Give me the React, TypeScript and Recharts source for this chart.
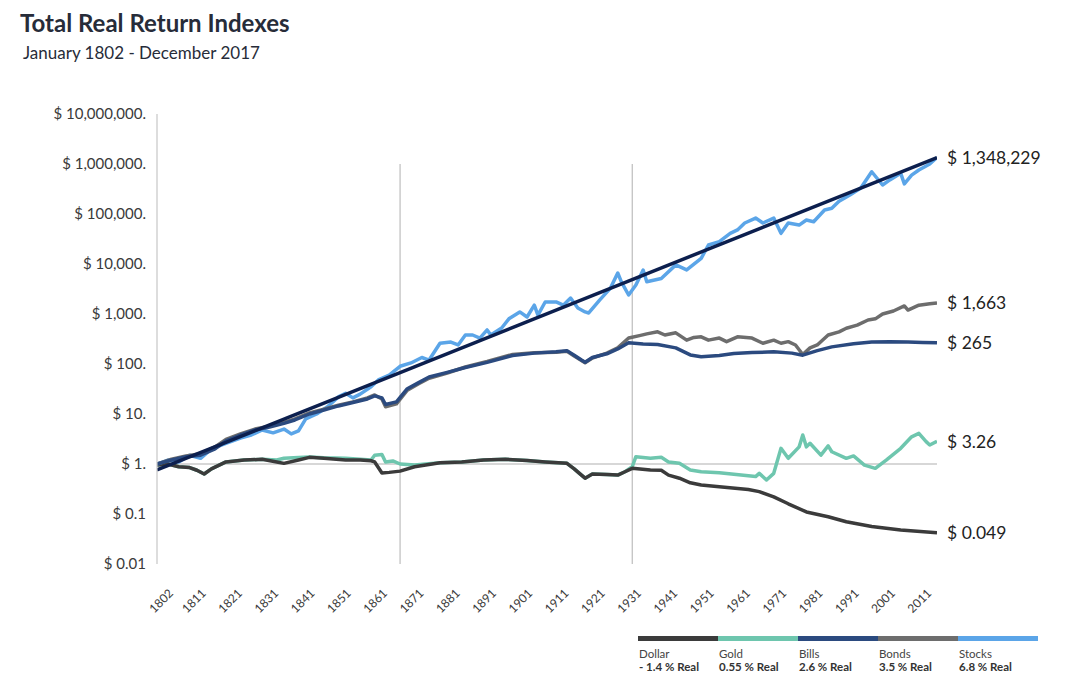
import React from "react";
import { LineChart, Line, XAxis, YAxis, ReferenceLine, LabelList } from "recharts";

// ---------- data ----------
const stockYears = [1802,1805,1808,1811,1814,1817,1821,1825,1828,1831,1834,1837,1839,1841,1843,1846,1849,1852,1854,1856,1858,1861,1863,1866,1869,1872,1875,1877,1880,1883,1885,1887,1889,1891,1893,1894,1897,1899,1902,1904,1906,1907,1909,1912,1914,1916,1918,1920,1921,1924,1927,1929,1930,1932,1934,1936,1937,1941,1945,1948,1952,1954,1957,1960,1962,1964,1967,1969,1972,1974,1976,1979,1981,1983,1986,1988,1990,1993,1996,1999,2002,2004,2007,2008,2010,2012,2015,2017];
const stockValues = [1.0,1.2,1.1,1.5,1.3,2.0,2.6,3.3,3.8,4.8,4.2,5.0,4.0,4.6,8.0,10,14,22,26,21,25,35,48,60,90,105,135,120,260,275,240,380,380,330,480,380,525,800,1100,870,1500,950,1740,1740,1500,2090,1320,1100,1050,1900,3300,6600,4400,2400,3800,7600,4400,5130,9600,7600,13000,24000,28000,41000,48000,66000,83000,66000,83000,41000,66000,60000,76000,70000,120000,130000,180000,240000,330000,700000,380000,480000,650000,400000,600000,760000,1000000,1348229];

const bondYears = [1802,1806,1810,1814,1818,1821,1825,1829,1833,1837,1840,1844,1848,1852,1856,1860,1862,1864,1865,1868,1871,1874,1877,1882,1887,1893,1900,1906,1912,1915,1917,1919,1920,1922,1926,1929,1932,1935,1937,1940,1942,1945,1948,1950,1952,1954,1957,1959,1962,1966,1969,1972,1974,1976,1978,1980,1982,1984,1987,1990,1992,1995,1998,2000,2002,2005,2008,2009,2012,2015,2017];
const bondValues = [1.0,1.25,1.45,1.6,2.2,3.1,4.0,5.0,5.7,6.8,8.0,10.5,12.5,15,17.5,21,24,20,14,16,30,40,52,66,87,112,155,168,172,180,145,118,106,132,165,210,330,370,400,440,380,420,300,340,350,300,330,280,350,330,260,300,260,280,240,155,210,240,380,440,520,600,760,800,1000,1150,1450,1200,1500,1600,1663];

const billYears = [1802,1806,1810,1814,1818,1821,1825,1829,1833,1837,1840,1844,1848,1852,1856,1860,1862,1864,1865,1868,1871,1874,1877,1882,1887,1893,1900,1906,1912,1915,1917,1919,1920,1922,1926,1929,1932,1936,1940,1945,1949,1952,1957,1961,1966,1972,1977,1980,1984,1988,1994,1999,2004,2009,2013,2017];
const billValues = [1.0,1.2,1.4,1.5,2.0,2.9,3.8,4.8,5.5,6.5,7.6,10,12,14.5,17,20,23,21,15.5,17.5,32,42,55,68,85,108,148,165,175,185,150,120,108,135,160,200,265,250,245,210,152,140,148,162,170,175,165,150,185,220,255,275,278,275,270,265];

const goldYears = [1802,1805,1808,1811,1813,1815,1817,1821,1826,1831,1835,1837,1841,1844,1848,1854,1858,1861,1862,1864,1865,1867,1869,1873,1880,1886,1892,1898,1904,1909,1915,1917,1919,1920,1922,1926,1929,1931,1933,1934,1938,1941,1943,1946,1949,1952,1957,1963,1967,1968,1970,1972,1974,1976,1979,1980,1981,1982,1985,1987,1988,1992,1994,1997,2000,2003,2007,2010,2012,2014,2015,2017];
const goldValues = [0.95,1.0,0.88,0.85,0.75,0.63,0.8,1.1,1.2,1.24,1.2,1.3,1.35,1.38,1.33,1.3,1.25,1.2,1.5,1.55,1.1,1.15,1.0,0.95,1.06,1.1,1.2,1.24,1.18,1.1,1.03,0.8,0.6,0.52,0.63,0.62,0.6,0.7,0.88,1.4,1.3,1.36,1.1,1.03,0.76,0.7,0.67,0.6,0.56,0.65,0.48,0.65,2.06,1.3,2.2,3.8,2.2,2.6,1.5,2.3,1.76,1.3,1.45,0.95,0.82,1.2,2.06,3.5,4.1,2.8,2.4,2.85];

const dollarYears = [1802,1805,1808,1811,1813,1815,1817,1821,1826,1831,1835,1837,1841,1844,1848,1854,1858,1861,1862,1864,1866,1869,1873,1880,1886,1892,1898,1904,1909,1915,1917,1919,1920,1922,1926,1929,1931,1933,1938,1941,1943,1946,1949,1952,1957,1965,1968,1972,1976,1981,1987,1992,1999,2007,2017];
const dollarValues = [0.95,1.0,0.88,0.85,0.75,0.63,0.8,1.1,1.2,1.24,1.1,1.03,1.2,1.36,1.3,1.2,1.2,1.16,1.1,0.66,0.68,0.72,0.88,1.06,1.1,1.2,1.24,1.18,1.1,1.03,0.8,0.6,0.52,0.63,0.62,0.6,0.7,0.82,0.76,0.75,0.6,0.52,0.42,0.38,0.35,0.31,0.28,0.22,0.16,0.11,0.088,0.07,0.056,0.048,0.042];

const trendYears = [1802, 2017];
const trendValues = [0.76, 1348229];

const seriesNames = ["Dollar", "Gold", "Bills", "Bonds", "Stocks"];
const seriesRates = ["- 1.4 % Real", "0.55 % Real", "2.6 % Real", "3.5 % Real", "6.8 % Real"];
const seriesColors = ["#3b3b3b", "#6ec6ae", "#2b4a7f", "#6d6d6d", "#5ba5e8"];
const endLabels = ["$ 0.049", "$ 3.26", "$ 265", "$ 1,663", "$ 1,348,229"];
const trendColor = "#0c1f4e";

const yTicks = [0.01, 0.1, 1, 10, 100, 1000, 10000, 100000, 1000000, 10000000];
const xTickYears = [1802,1811,1821,1831,1841,1851,1861,1871,1881,1891,1901,1911,1921,1931,1941,1951,1961,1971,1981,1991,2001,2011];
const markerYears = [1869, 1933];

// ---------- helpers ----------
const toPoints = (years: number[], values: number[]) =>
  years.map((yr, i) => ({ year: yr, value: values[i] }));

const withCommas = (n: number) => {
  const s = String(Math.round(n));
  return s.replace(/\B(?=(\d{3})+(?!\d))/g, ",");
};
const fmtY = (v: number) => (v >= 1 ? `$ ${withCommas(v)}.` : `$ ${v}`);

const FONT = "Lato, 'Noto Sans', sans-serif";

const XTick = (props: any) => {
  const { x, y, payload } = props;
  return (
    <g transform={`translate(${x + 17},${y + 30})`}>
      <text x={0} y={0} textAnchor="end" transform="rotate(-45)" fontSize={12} fill="#3a3a3a" fontFamily={FONT}>
        {payload.value}
      </text>
    </g>
  );
};

const makeEndLabel = (text: string, lastIndex: number) => (props: any) => {
  const { x, y, index } = props;
  if (index !== lastIndex) return null;
  return (
    <text x={x + 10} y={y} dominantBaseline="central" fontSize={17.5} fill="#222" fontFamily={FONT}>
      {text}
    </text>
  );
};

const seriesData = [
  { years: dollarYears, values: dollarValues },
  { years: goldYears, values: goldValues },
  { years: billYears, values: billValues },
  { years: bondYears, values: bondValues },
  { years: stockYears, values: stockValues },
];

// drawing order: gold, dollar, stocks, bonds, bills
const drawOrder = [1, 0, 4, 3, 2];

export default function App() {
  return (
    <div style={{ position: "relative", width: 1064, height: 670, fontFamily: FONT, background: "#fff" }}>
      <div style={{ position: "absolute", left: 12, top: 3, fontSize: 24, lineHeight: 1, fontWeight: 700, color: "#272c39", whiteSpace: "nowrap" }}>
        Total Real Return Indexes
      </div>
      <div style={{ position: "absolute", left: 15, top: 36, fontSize: 17, lineHeight: 1, color: "#272c39", whiteSpace: "nowrap" }}>
        January 1802 - December 2017
      </div>
      <div style={{ position: "absolute", left: 0, top: 0 }}>
        <LineChart width={1064} height={670} margin={{ top: 106, right: 135, bottom: 74, left: 29 }}>
          <XAxis
            xAxisId="data"
            type="number"
            dataKey="year"
            domain={[1802, 2017]}
            allowDataOverflow
            ticks={xTickYears}
            interval={0}
            tick={<XTick />}
            axisLine={false}
            tickLine={false}
            tickSize={0}
            tickMargin={0}
            height={40}
          />
          <YAxis
            yAxisId="y"
            type="number"
            scale="log"
            domain={[0.01, 10000000]}
            ticks={yTicks}
            interval={0}
            allowDataOverflow
            tickFormatter={fmtY}
            width={120}
            axisLine={{ stroke: "#c6c6c6", strokeWidth: 1.2 }}
            tickLine={false}
            tickSize={0}
            tickMargin={11}
            tick={{ fontSize: 15, fill: "#3a3a3a", fontFamily: FONT }}
          />
          {markerYears.map((m) => (
            <ReferenceLine
              key={m}
              xAxisId="data"
              yAxisId="y"
              segment={[{ x: m, y: 0.01 }, { x: m, y: 1000000 }]}
              stroke="#bdbdbd"
              strokeWidth={1.2}
            />
          ))}
          <ReferenceLine xAxisId="data" yAxisId="y" y={1} stroke="#b0b0b0" strokeWidth={1.2} />
          {drawOrder.map((i) => (
            <Line
              key={seriesNames[i]}
              xAxisId="data"
              yAxisId="y"
              data={toPoints(seriesData[i].years, seriesData[i].values)}
              dataKey="value"
              name={seriesNames[i]}
              type="linear"
              stroke={seriesColors[i]}
              strokeWidth={3.5}
              strokeLinejoin="round"
              dot={false}
              activeDot={false}
              isAnimationActive={false}
            >
              <LabelList dataKey="value" content={makeEndLabel(endLabels[i], seriesData[i].years.length - 1)} />
            </Line>
          ))}
          <Line
            xAxisId="data"
            yAxisId="y"
            data={toPoints(trendYears, trendValues)}
            dataKey="value"
            name="Trend"
            type="linear"
            stroke={trendColor}
            strokeWidth={3.5}
            dot={false}
            activeDot={false}
            isAnimationActive={false}
          />
        </LineChart>
      </div>
      <div style={{ position: "absolute", left: 630, top: 628, display: "flex" }}>
        {seriesNames.map((n, i) => (
          <div key={n} style={{ width: 80 }}>
            <div style={{ height: 5, background: seriesColors[i] }} />
            <div style={{ fontSize: 11.5, color: "#444", marginTop: 6, lineHeight: "13px", paddingLeft: 1 }}>{n}</div>
            <div style={{ fontSize: 11.5, color: "#333", fontWeight: 700, lineHeight: "13px", paddingLeft: 1 }}>{seriesRates[i]}</div>
          </div>
        ))}
      </div>
    </div>
  );
}
